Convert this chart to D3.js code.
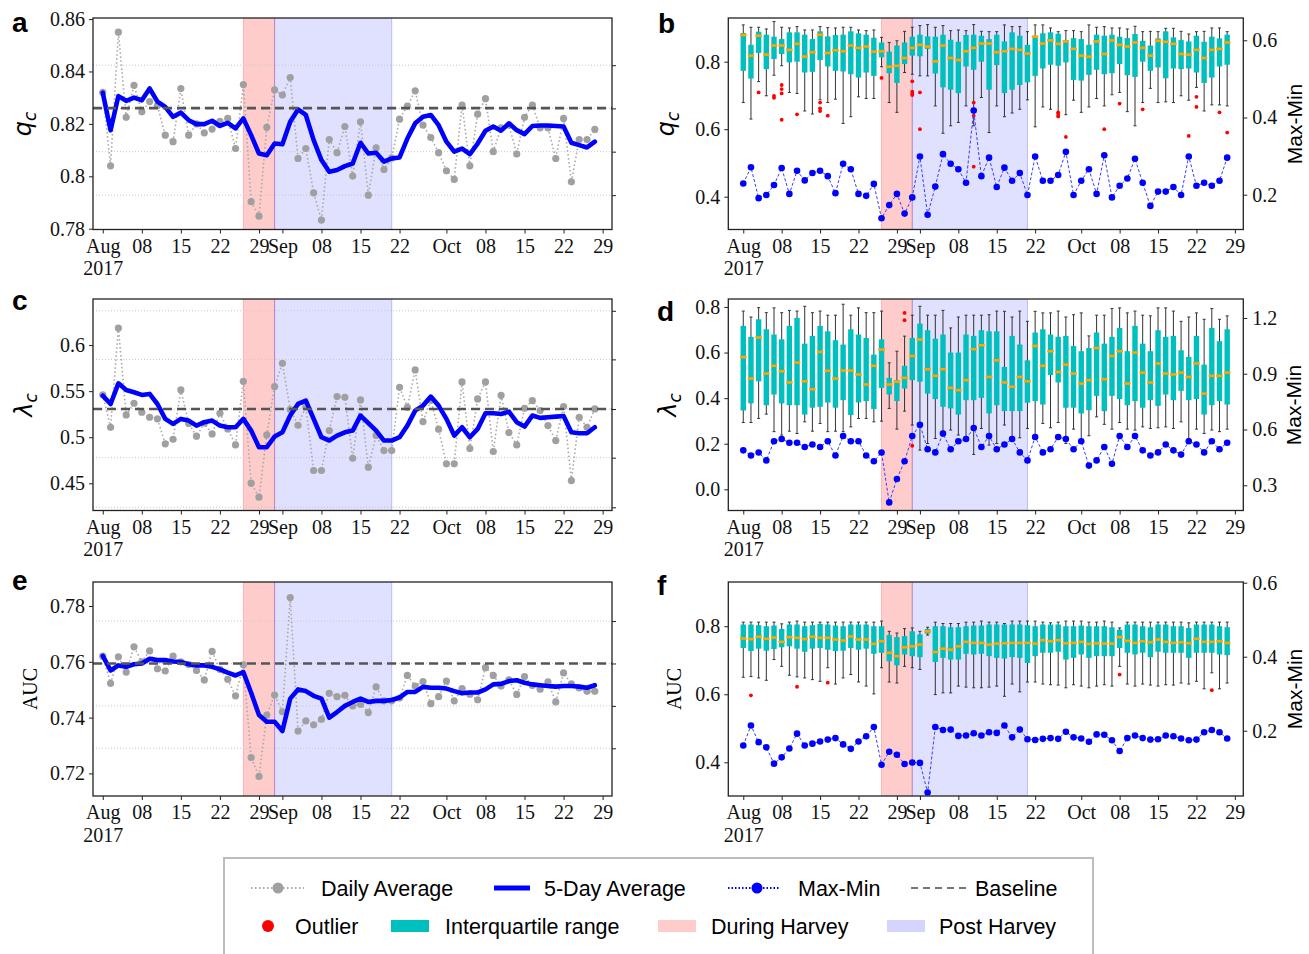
<!DOCTYPE html>
<html>
<head>
<meta charset="utf-8">
<script src="https://cdn.jsdelivr.net/npm/d3@7"></script>
<style>
  body { margin: 0; background: #fff; }
</style>
</head>
<body>
<script>
/* x positions are business-day indices: 0 = Tue 1 Aug 2017 ... 63 = Fri 27 Oct 2017 */
var tickIdx    = [0, 5, 10, 15, 20, 23, 28, 33, 38, 44, 49, 54, 59, 64];
var tickLabels = ["Aug", "08", "15", "22", "29", "Sep", "08", "15", "22", "Oct", "08", "15", "22", "29"];
var duringHarvey = [18, 22];
var postHarvey   = [22, 37];

/* q_c : daily average, 5-day average, baseline */
var qcDaily = [0.832,0.804,0.855,0.8225,0.8347,0.8246,0.8285,0.827,0.8157,0.8132,0.8335,0.8157,0.820,0.8166,0.818,0.821,
  0.8221,0.8106,0.835,0.7903,0.7848,0.8187,0.833,0.831,0.8377,0.8068,0.8106,0.7937,0.7833,0.814,0.809,0.819,
  0.8001,0.8208,0.7928,0.8109,0.8026,0.807,0.8218,0.8268,0.8326,0.8195,0.8148,0.809,0.8021,0.7988,0.8272,0.804,
  0.8237,0.8296,0.8094,0.8185,0.8195,0.8085,0.8225,0.8272,0.8185,0.8185,0.8068,0.8221,0.7979,0.814,0.814,0.8179];
var qc5Day = [0.8319,0.8176,0.8306,0.8288,0.830,0.829,0.8335,0.8285,0.8265,0.8227,0.8243,0.8214,0.8199,0.8199,0.8212,0.8192,
  0.8204,0.8183,0.8221,0.8157,0.8087,0.808,0.8125,0.8122,0.8208,0.8255,0.8234,0.8138,0.8062,0.8017,0.8024,0.8039,
  0.8049,0.8128,0.8087,0.809,0.8056,0.8068,0.8072,0.8144,0.8202,0.8227,0.8234,0.8195,0.8132,0.8094,0.8106,0.8085,
  0.8125,0.8174,0.819,0.8174,0.8202,0.8176,0.8161,0.8192,0.8194,0.8194,0.8192,0.819,0.8128,0.8119,0.811,0.8132];
var qcBase = 0.826;
var qcGrid = [0.7928, 0.8094, 0.8259, 0.8424];

/* lambda_c */
var lamDaily = [0.546,0.5108,0.6185,0.5242,0.5369,0.5271,0.5217,0.52,0.4928,0.4978,0.5513,0.515,0.5011,0.5152,0.5036,0.526,
  0.509,0.4917,0.5607,0.4501,0.435,0.5025,0.555,0.5802,0.53,0.513,0.533,0.4639,0.4639,0.5072,0.5441,0.5434,
  0.4772,0.5405,0.4675,0.502,0.4855,0.4855,0.5542,0.5325,0.573,0.517,0.54,0.5087,0.4711,0.4711,0.56,0.4877,
  0.5416,0.56,0.4845,0.5455,0.5051,0.4917,0.5314,0.5398,0.5289,0.5126,0.4964,0.5333,0.453,0.5217,0.5108,0.5307];
var lam5Day = [0.5452,0.5361,0.5585,0.5513,0.5488,0.5459,0.547,0.5361,0.5199,0.5145,0.5199,0.5181,0.5126,0.5163,0.5181,0.5126,
  0.5108,0.5108,0.5199,0.5072,0.4892,0.4892,0.5007,0.5054,0.5235,0.5361,0.5398,0.5199,0.50,0.4964,0.5018,0.5054,
  0.5072,0.5235,0.5152,0.5072,0.4964,0.4964,0.50,0.5126,0.5289,0.5343,0.5441,0.5343,0.5199,0.5018,0.5108,0.50,
  0.509,0.526,0.526,0.5253,0.5278,0.5163,0.5116,0.5235,0.521,0.5217,0.5224,0.5231,0.5054,0.5043,0.5043,0.5108];
var lamBase = 0.5306;
var lamGrid = [0.424, 0.4778, 0.5306, 0.5845, 0.6372];

/* AUC */
var aucDaily = [0.762,0.7523,0.7618,0.7563,0.7654,0.760,0.7639,0.7575,0.7567,0.762,0.760,0.759,0.7569,0.7535,0.7637,0.7573,
  0.7537,0.7478,0.7589,0.7257,0.7189,0.7409,0.7481,0.7421,0.783,0.7352,0.7388,0.7374,0.7394,0.7487,0.7475,0.748,
  0.7442,0.7448,0.7418,0.751,0.746,0.746,0.747,0.7551,0.7513,0.7529,0.745,0.7475,0.7531,0.746,0.7504,0.7484,
  0.7464,0.7579,0.7551,0.7513,0.7535,0.7483,0.7547,0.7515,0.7502,0.7528,0.7456,0.756,0.7521,0.7506,0.7494,0.7494];
var auc5Day = [0.7621,0.7569,0.7587,0.7582,0.7591,0.7594,0.7611,0.7606,0.7606,0.7601,0.7599,0.7591,0.7587,0.7587,0.7582,0.7573,
  0.7561,0.7551,0.7563,0.7489,0.7409,0.7385,0.7385,0.7352,0.7468,0.7501,0.7495,0.7478,0.7468,0.74,0.742,0.7442,
  0.7456,0.7468,0.7456,0.746,0.746,0.7463,0.7472,0.7492,0.7492,0.751,0.7507,0.7507,0.7504,0.7495,0.7487,0.749,
  0.749,0.7501,0.7519,0.7521,0.7531,0.7534,0.7525,0.7519,0.7516,0.7513,0.7511,0.7513,0.7513,0.7511,0.7507,0.7516];
var aucBase = 0.7594;
var aucGrid = [0.729, 0.7442, 0.7594, 0.7746];

/* q_c boxplots per day (whisker low, Q1, median, Q3, whisker high), outliers [day, value], Max-Min */
var qcLo = [0.679,0.63,0.741,0.699,0.76,0.788,0.709,0.706,0.654,0.645,0.687,0.679,0.689,0.617,0.637,0.696,
  0.691,0.691,0.785,0.679,0.65,0.768,0.763,0.758,0.758,0.669,0.588,0.61,0.62,0.669,0.61,0.694,
  0.59,0.669,0.637,0.648,0.659,0.687,0.607,0.666,0.659,0.64,0.643,0.686,0.65,0.666,0.691,0.669,
  0.702,0.709,0.652,0.61,0.679,0.721,0.679,0.681,0.679,0.699,0.686,0.724,0.654,0.672,0.672,0.669];
var qcQ1 = [0.773,0.75,0.826,0.778,0.808,0.823,0.798,0.8,0.768,0.77,0.805,0.786,0.773,0.771,0.763,0.753,
  0.768,0.758,0.813,0.766,0.737,0.793,0.818,0.816,0.838,0.765,0.724,0.717,0.707,0.786,0.776,0.8,
  0.717,0.79,0.707,0.717,0.731,0.739,0.758,0.78,0.791,0.788,0.798,0.746,0.744,0.761,0.776,0.763,
  0.766,0.793,0.76,0.755,0.8,0.773,0.783,0.751,0.78,0.778,0.78,0.768,0.737,0.753,0.786,0.791];
var qcMed = [0.879,0.818,0.877,0.821,0.848,0.848,0.835,0.853,0.815,0.828,0.88,0.826,0.834,0.831,0.848,0.841,
  0.845,0.83,0.831,0.785,0.788,0.811,0.841,0.85,0.845,0.801,0.848,0.811,0.805,0.831,0.841,0.854,
  0.854,0.828,0.831,0.838,0.835,0.824,0.874,0.854,0.863,0.853,0.86,0.838,0.818,0.815,0.86,0.823,
  0.863,0.85,0.845,0.857,0.841,0.818,0.862,0.859,0.853,0.823,0.821,0.835,0.811,0.835,0.838,0.857];
var qcQ3 = [0.885,0.85,0.889,0.88,0.874,0.867,0.887,0.887,0.88,0.867,0.89,0.875,0.879,0.88,0.89,0.884,
  0.88,0.871,0.857,0.83,0.848,0.857,0.874,0.88,0.875,0.874,0.88,0.865,0.859,0.879,0.88,0.877,
  0.867,0.88,0.86,0.887,0.877,0.85,0.877,0.884,0.887,0.883,0.864,0.87,0.867,0.85,0.88,0.877,
  0.88,0.874,0.87,0.882,0.862,0.848,0.869,0.89,0.872,0.864,0.86,0.877,0.859,0.874,0.869,0.88];
var qcHi = [0.909,0.902,0.902,0.897,0.919,0.902,0.9,0.904,0.894,0.894,0.904,0.901,0.9,0.902,0.902,0.894,
  0.892,0.894,0.872,0.857,0.862,0.89,0.902,0.907,0.91,0.902,0.907,0.892,0.894,0.892,0.91,0.89,
  0.889,0.889,0.909,0.904,0.904,0.889,0.909,0.909,0.9,0.889,0.892,0.892,0.889,0.909,0.902,0.904,
  0.9,0.9,0.897,0.905,0.889,0.89,0.889,0.899,0.899,0.89,0.882,0.889,0.89,0.9,0.9,0.889];
var qcOut = [[2,0.709],[4,0.699],[4,0.693],[5,0.731],[5,0.719],[5,0.706],[5,0.628],[7,0.644],[10,0.679],[10,0.662],
  [10,0.654],[11,0.64],[18,0.752],[22,0.742],[22,0.711],[22,0.705],[22,0.701],[23,0.709],[23,0.6],[30,0.679],
  [30,0.64],[30,0.489],[41,0.65],[41,0.645],[41,0.638],[42,0.577],[47,0.6],[49,0.676],[52,0.659],[58,0.58],
  [59,0.696],[59,0.666],[62,0.65],[63,0.59]];
var qcMaxMin = [0.229,0.271,0.191,0.199,0.225,0.269,0.202,0.262,0.237,0.256,0.262,0.248,0.204,0.28,0.266,0.202,
  0.197,0.228,0.139,0.173,0.202,0.151,0.193,0.299,0.148,0.221,0.305,0.28,0.266,0.231,0.418,0.248,
  0.296,0.22,0.27,0.236,0.256,0.199,0.299,0.236,0.236,0.251,0.311,0.199,0.236,0.266,0.202,0.302,
  0.193,0.223,0.242,0.293,0.231,0.171,0.208,0.208,0.22,0.199,0.299,0.223,0.231,0.223,0.236,0.296];

/* lambda_c boxplots */
var lamLo = [0.293,0.293,0.311,0.33,0.253,0.238,0.255,0.245,0.296,0.255,0.289,0.253,0.255,0.253,0.274,0.311,
  0.311,0.296,0.299,0.355,0.264,0.343,0.282,0.172,0.201,0.223,0.255,0.26,0.238,0.223,0.153,0.267,
  0.194,0.201,0.282,0.226,0.226,0.267,0.226,0.289,0.27,0.293,0.201,0.264,0.216,0.235,0.318,0.285,
  0.264,0.293,0.264,0.26,0.274,0.267,0.27,0.274,0.267,0.296,0.223,0.264,0.245,0.26,0.253,0.264];
var lamQ1 = [0.346,0.377,0.474,0.369,0.416,0.377,0.369,0.369,0.328,0.358,0.362,0.381,0.358,0.391,0.326,0.381,
  0.387,0.352,0.445,0.416,0.387,0.442,0.479,0.472,0.42,0.396,0.362,0.355,0.328,0.391,0.391,0.401,
  0.333,0.369,0.343,0.343,0.343,0.38,0.387,0.372,0.501,0.469,0.358,0.358,0.333,0.347,0.41,0.343,
  0.41,0.396,0.369,0.387,0.358,0.391,0.366,0.416,0.391,0.432,0.391,0.396,0.328,0.369,0.387,0.372];
var lamMed = [0.58,0.486,0.666,0.508,0.542,0.518,0.469,0.556,0.474,0.439,0.603,0.52,0.486,0.521,0.521,0.504,
  0.46,0.542,0.613,0.46,0.472,0.489,0.585,0.657,0.527,0.498,0.527,0.445,0.435,0.479,0.615,0.632,
  0.493,0.566,0.469,0.45,0.493,0.474,0.629,0.542,0.606,0.515,0.547,0.508,0.464,0.479,0.62,0.483,
  0.585,0.606,0.464,0.6,0.512,0.469,0.552,0.508,0.504,0.512,0.493,0.552,0.42,0.498,0.498,0.512];
var lamQ3 = [0.717,0.669,0.746,0.702,0.679,0.658,0.717,0.752,0.639,0.673,0.717,0.693,0.654,0.635,0.702,0.679,
  0.664,0.591,0.658,0.489,0.479,0.542,0.664,0.727,0.698,0.661,0.679,0.6,0.6,0.679,0.673,0.698,
  0.693,0.693,0.537,0.673,0.635,0.566,0.688,0.702,0.679,0.669,0.673,0.629,0.606,0.62,0.688,0.639,
  0.669,0.708,0.606,0.717,0.639,0.606,0.698,0.669,0.673,0.61,0.581,0.673,0.547,0.708,0.65,0.702];
var lamHi = [0.782,0.756,0.797,0.775,0.796,0.775,0.785,0.782,0.803,0.775,0.782,0.764,0.764,0.812,0.764,0.796,
  0.775,0.775,0.782,0.555,0.606,0.672,0.764,0.803,0.764,0.764,0.785,0.708,0.756,0.764,0.764,0.764,
  0.766,0.782,0.781,0.756,0.782,0.737,0.781,0.774,0.774,0.782,0.756,0.766,0.774,0.673,0.764,0.764,
  0.793,0.796,0.774,0.782,0.764,0.761,0.796,0.796,0.782,0.737,0.756,0.774,0.746,0.793,0.746,0.761];
var lamOut = [[21,0.774],[21,0.742],[22,0.191]];
var lamMaxMin = [0.488,0.46,0.476,0.434,0.537,0.549,0.529,0.529,0.506,0.519,0.506,0.537,0.46,0.565,0.537,0.537,
  0.46,0.429,0.476,0.208,0.334,0.429,0.565,0.626,0.494,0.477,0.578,0.494,0.537,0.549,0.608,0.506,
  0.565,0.494,0.519,0.549,0.477,0.434,0.56,0.477,0.494,0.56,0.549,0.494,0.537,0.406,0.434,0.506,
  0.416,0.565,0.506,0.565,0.488,0.46,0.477,0.519,0.488,0.465,0.537,0.519,0.477,0.537,0.494,0.529];

/* AUC boxplots */
var aucLo = [0.65,0.652,0.648,0.641,0.702,0.682,0.656,0.651,0.648,0.643,0.638,0.678,0.63,0.648,0.658,0.636,
  0.624,0.601,0.678,0.636,0.633,0.682,0.678,0.673,0.774,0.599,0.604,0.604,0.624,0.621,0.619,0.619,
  0.621,0.624,0.594,0.63,0.607,0.636,0.636,0.63,0.628,0.627,0.619,0.628,0.624,0.619,0.624,0.628,
  0.624,0.682,0.63,0.624,0.63,0.627,0.624,0.628,0.627,0.633,0.63,0.638,0.616,0.663,0.616,0.633];
var aucQ1 = [0.736,0.727,0.734,0.728,0.733,0.738,0.741,0.734,0.725,0.734,0.736,0.731,0.727,0.728,0.736,0.731,
  0.734,0.719,0.722,0.697,0.685,0.717,0.712,0.709,0.778,0.695,0.707,0.702,0.702,0.719,0.717,0.719,
  0.712,0.707,0.705,0.709,0.707,0.692,0.712,0.722,0.722,0.725,0.702,0.707,0.717,0.707,0.712,0.712,
  0.712,0.736,0.722,0.717,0.722,0.709,0.725,0.722,0.722,0.722,0.707,0.722,0.722,0.722,0.717,0.715];
var aucMed = [0.764,0.762,0.769,0.763,0.767,0.754,0.768,0.766,0.762,0.769,0.766,0.766,0.761,0.758,0.77,0.761,
  0.761,0.748,0.756,0.722,0.712,0.738,0.741,0.746,0.785,0.724,0.734,0.731,0.741,0.754,0.751,0.751,
  0.746,0.749,0.75,0.751,0.751,0.751,0.749,0.759,0.756,0.759,0.75,0.751,0.754,0.748,0.75,0.749,
  0.749,0.768,0.757,0.751,0.756,0.753,0.761,0.754,0.751,0.753,0.75,0.763,0.754,0.754,0.756,0.751];
var aucQ3 = [0.805,0.805,0.803,0.8,0.802,0.792,0.805,0.805,0.8,0.803,0.807,0.805,0.802,0.8,0.805,0.805,
  0.805,0.8,0.8,0.774,0.768,0.771,0.785,0.776,0.792,0.8,0.8,0.797,0.797,0.8,0.802,0.802,
  0.805,0.805,0.805,0.805,0.805,0.803,0.8,0.805,0.805,0.805,0.8,0.8,0.802,0.8,0.8,0.8,
  0.797,0.79,0.805,0.805,0.8,0.797,0.805,0.805,0.8,0.8,0.795,0.805,0.805,0.805,0.8,0.797];
var aucHi = [0.812,0.812,0.812,0.812,0.812,0.807,0.812,0.815,0.812,0.812,0.812,0.812,0.812,0.812,0.812,0.812,
  0.812,0.812,0.815,0.785,0.78,0.793,0.795,0.785,0.797,0.812,0.808,0.808,0.808,0.812,0.812,0.815,
  0.812,0.812,0.808,0.815,0.815,0.815,0.815,0.812,0.81,0.812,0.815,0.815,0.815,0.812,0.812,0.815,
  0.812,0.795,0.812,0.812,0.812,0.812,0.812,0.812,0.812,0.812,0.81,0.812,0.812,0.812,0.812,0.812];
var aucOut = [[1,0.597],[7,0.622],[11,0.634],[49,0.658],[61,0.612]];
var aucMaxMin = [0.160,0.214,0.169,0.155,0.111,0.128,0.152,0.192,0.160,0.165,0.171,0.176,0.180,0.163,0.151,0.171,
  0.185,0.210,0.108,0.143,0.135,0.110,0.114,0.113,0.033,0.210,0.202,0.203,0.186,0.187,0.193,0.187,
  0.196,0.194,0.214,0.182,0.203,0.177,0.175,0.178,0.180,0.178,0.197,0.182,0.179,0.170,0.190,0.189,
  0.174,0.145,0.180,0.187,0.180,0.176,0.177,0.187,0.185,0.179,0.174,0.176,0.196,0.202,0.196,0.179];

/* Layout */
var width = 1309, height = 954;
var serif = "'Liberation Serif', 'Times New Roman', serif";
var sans = "'Liberation Sans', Arial, sans-serif";
var teal = "#00bfbf", orange = "#ffa500", blue = "#0000ff";

var leftCol  = {x0: 93,    x1: 612,    dom: [-1.25, 65.2]};
var rightCol = {x0: 728.3, x1: 1243.3, dom: [-1.95, 65.1]};
var rowsY = [[18, 229.5], [299, 510.5], [582, 796]];

var svg = d3.select("body").append("svg")
    .attr("width", width)
    .attr("height", height);

function styleAxis(ax) {
  ax.select(".domain").remove();
  ax.selectAll("line").attr("stroke", "#222").attr("stroke-width", 1);
  ax.selectAll("text").attr("font-size", 20).attr("font-family", serif).attr("fill", "#111");
  return ax;
}

function drawSpans(g, x, y0, y1) {
  [[duringHarvey, "#ff0000", 0.2], [postHarvey, "#0000ff", 0.12]].forEach(function(s) {
    g.append("rect")
      .attr("x", x(s[0][0])).attr("y", y0)
      .attr("width", x(s[0][1]) - x(s[0][0])).attr("height", y1 - y0)
      .attr("fill", s[1]).attr("fill-opacity", s[2]);
    s[0].forEach(function(v) {
      g.append("line").attr("x1", x(v)).attr("x2", x(v)).attr("y1", y0).attr("y2", y1)
        .attr("stroke", s[1]).attr("stroke-opacity", 0.22).attr("stroke-width", 1);
    });
  });
}

function drawXAxis(g, x, y1) {
  var ax = g.append("g").attr("transform", "translate(0," + y1 + ")")
    .call(d3.axisBottom(x).tickValues(tickIdx)
      .tickFormat(function(d, i) { return tickLabels[i]; })
      .tickSize(4).tickPadding(5));
  styleAxis(ax);
  ax.select(".tick text").append("tspan").attr("x", 0).attr("dy", "1.12em").text("2017");
}

function panelLetter(x, y, s) {
  svg.append("text").attr("x", x).attr("y", y).text(s)
    .attr("font-family", sans).attr("font-weight", "bold").attr("font-size", 28).attr("fill", "#000");
}

function mathLabel(x, y, sym) {
  var t = svg.append("text")
    .attr("transform", "translate(" + x + "," + y + ") rotate(-90)")
    .attr("text-anchor", "middle").attr("font-family", "'DejaVu Sans', sans-serif").attr("font-size", 24);
  t.append("tspan").attr("font-style", "italic").text(sym);
  t.append("tspan").attr("font-style", "italic").attr("font-size", 17).attr("dy", 5).text("c");
}

function plainLabel(x, y, s, font, size) {
  svg.append("text")
    .attr("transform", "translate(" + x + "," + y + ") rotate(-90)")
    .attr("text-anchor", "middle").attr("font-family", font).attr("font-size", size).text(s);
}

function trimFormat(d) { return String(+d.toFixed(2)); }

/* panels a, c, e: daily average and 5-day average */
function linePanel(row, daily, avg, base, grid, yDom, yTicks) {
  var col = leftCol;
  var y0 = rowsY[row][0], y1 = rowsY[row][1];
  var x = d3.scaleLinear().domain(col.dom).range([col.x0, col.x1]);
  var y = d3.scaleLinear().domain(yDom).range([y1, y0]);
  var g = svg.append("g");

  drawSpans(g, x, y0, y1);

  g.selectAll("line.grid").data(grid).join("line").attr("class", "grid")
    .attr("x1", col.x0).attr("x2", col.x1)
    .attr("y1", function(d) { return y(d); }).attr("y2", function(d) { return y(d); })
    .attr("stroke", "#c8c8c8").attr("stroke-width", 1).attr("stroke-dasharray", "1,2");

  var line = d3.line().x(function(d, i) { return x(i); }).y(function(d) { return y(d); });

  g.append("path").attr("d", line(daily)).attr("fill", "none")
    .attr("stroke", "#a8a8a8").attr("stroke-width", 1.6).attr("stroke-dasharray", "1.5,2.5");
  g.selectAll("circle.daily").data(daily).join("circle").attr("class", "daily")
    .attr("cx", function(d, i) { return x(i); }).attr("cy", function(d) { return y(d); })
    .attr("r", 3.6).attr("fill", "#a0a0a0");

  g.append("path").attr("d", line(avg)).attr("fill", "none")
    .attr("stroke", blue).attr("stroke-width", 4.6).attr("stroke-linejoin", "round").attr("stroke-linecap", "round");

  g.append("line").attr("x1", col.x0).attr("x2", col.x1).attr("y1", y(base)).attr("y2", y(base))
    .attr("stroke", "#555").attr("stroke-width", 2.6).attr("stroke-dasharray", "9,5");

  g.append("rect").attr("x", col.x0).attr("y", y0).attr("width", col.x1 - col.x0).attr("height", y1 - y0)
    .attr("fill", "none").attr("stroke", "#222").attr("stroke-width", 1.3);

  styleAxis(g.append("g").attr("transform", "translate(" + col.x0 + ",0)")
    .call(d3.axisLeft(y).tickValues(yTicks).tickFormat(trimFormat).tickSize(4).tickPadding(4)));
  styleAxis(g.append("g").attr("transform", "translate(" + col.x1 + ",0)")
    .call(d3.axisRight(y).tickValues(grid).tickFormat("").tickSize(4)));
  drawXAxis(g, x, y1);
}

/* panels b, d, f: daily boxplots with Max-Min on a twin axis */
function boxPanel(row, lo, q1, med, q3, hi, out, maxMin, yDom, yTicks, rDom, rTicks) {
  var col = rightCol;
  var y0 = rowsY[row][0], y1 = rowsY[row][1];
  var x = d3.scaleLinear().domain(col.dom).range([col.x0, col.x1]);
  var y = d3.scaleLinear().domain(yDom).range([y1, y0]);
  var yR = d3.scaleLinear().domain(rDom).range([y1, y0]);
  var g = svg.append("g");
  var bw = 5.4, cw = 3;

  drawSpans(g, x, y0, y1);

  var boxes = g.selectAll("g.box").data(d3.range(med.length)).join("g").attr("class", "box");
  boxes.append("line")
    .attr("x1", function(i) { return x(i); }).attr("x2", function(i) { return x(i); })
    .attr("y1", function(i) { return y(hi[i]); }).attr("y2", function(i) { return y(lo[i]); })
    .attr("stroke", "#333").attr("stroke-width", 1);
  [hi, lo].forEach(function(arr) {
    boxes.append("line")
      .attr("x1", function(i) { return x(i) - cw / 2; }).attr("x2", function(i) { return x(i) + cw / 2; })
      .attr("y1", function(i) { return y(arr[i]); }).attr("y2", function(i) { return y(arr[i]); })
      .attr("stroke", "#333").attr("stroke-width", 1);
  });
  boxes.append("rect")
    .attr("x", function(i) { return x(i) - bw / 2; }).attr("width", bw)
    .attr("y", function(i) { return y(q3[i]); })
    .attr("height", function(i) { return Math.max(1, y(q1[i]) - y(q3[i])); })
    .attr("fill", teal);
  boxes.append("line")
    .attr("x1", function(i) { return x(i) - bw / 2 - 0.6; }).attr("x2", function(i) { return x(i) + bw / 2 + 0.6; })
    .attr("y1", function(i) { return y(med[i]); }).attr("y2", function(i) { return y(med[i]); })
    .attr("stroke", orange).attr("stroke-width", 2.6);

  g.selectAll("circle.out").data(out).join("circle").attr("class", "out")
    .attr("cx", function(d) { return x(d[0]); }).attr("cy", function(d) { return y(d[1]); })
    .attr("r", 1.9).attr("fill", "#ff0000");

  var mmLine = d3.line().x(function(d, i) { return x(i); }).y(function(d) { return yR(d); });
  g.append("path").attr("d", mmLine(maxMin)).attr("fill", "none")
    .attr("stroke", "#3a3aff").attr("stroke-width", 1).attr("stroke-dasharray", "3,2");
  g.selectAll("circle.mm").data(maxMin).join("circle").attr("class", "mm")
    .attr("cx", function(d, i) { return x(i); }).attr("cy", function(d) { return yR(d); })
    .attr("r", 3.3).attr("fill", blue);

  g.append("rect").attr("x", col.x0).attr("y", y0).attr("width", col.x1 - col.x0).attr("height", y1 - y0)
    .attr("fill", "none").attr("stroke", "#222").attr("stroke-width", 1.3);

  styleAxis(g.append("g").attr("transform", "translate(" + col.x0 + ",0)")
    .call(d3.axisLeft(y).tickValues(yTicks).tickFormat(d3.format(".1f")).tickSize(4).tickPadding(4)));
  styleAxis(g.append("g").attr("transform", "translate(" + col.x1 + ",0)")
    .call(d3.axisRight(yR).tickValues(rTicks).tickFormat(d3.format(".1f")).tickSize(4).tickPadding(5)));
  drawXAxis(g, x, y1);
}

linePanel(0, qcDaily, qc5Day, qcBase, qcGrid, [0.7797, 0.8604], [0.78, 0.80, 0.82, 0.84, 0.86]);
linePanel(1, lamDaily, lam5Day, lamBase, lamGrid, [0.4205, 0.65], [0.45, 0.50, 0.55, 0.60]);
linePanel(2, aucDaily, auc5Day, aucBase, aucGrid, [0.7119, 0.7886], [0.72, 0.74, 0.76, 0.78]);

boxPanel(0, qcLo, qcQ1, qcMed, qcQ3, qcHi, qcOut, qcMaxMin, [0.3028, 0.9295], [0.4, 0.6, 0.8], [0.1098, 0.6578], [0.2, 0.4, 0.6]);
boxPanel(1, lamLo, lamQ1, lamMed, lamQ3, lamHi, lamOut, lamMaxMin, [-0.093, 0.835], [0.0, 0.2, 0.4, 0.6, 0.8], [0.1644, 1.302], [0.3, 0.6, 0.9, 1.2]);
boxPanel(2, aucLo, aucQ1, aucMed, aucQ3, aucHi, aucOut, aucMaxMin, [0.3009, 0.930], [0.4, 0.6, 0.8], [0.0235, 0.6019], [0.2, 0.4, 0.6]);

/* panel letters and axis titles */
panelLetter(12, 32, "a");
panelLetter(658, 33, "b");
panelLetter(12, 310, "c");
panelLetter(657, 321, "d");
panelLetter(12, 590, "e");
panelLetter(657, 595, "f");

mathLabel(31, 124, "q");
mathLabel(674, 124, "q");
mathLabel(32, 405, "\u03bb");
mathLabel(676, 405, "\u03bb");
plainLabel(37, 689, "AUC", serif, 20);
plainLabel(681, 689, "AUC", serif, 20);
plainLabel(1302, 124, "Max-Min", sans, 21);
plainLabel(1301, 405, "Max-Min", sans, 21);
plainLabel(1302, 689, "Max-Min", sans, 21);

/* legend */
var lg = svg.append("g").attr("font-family", sans).attr("font-size", 21.5).attr("fill", "#000");
lg.append("rect").attr("x", 224).attr("y", 858).attr("width", 869).attr("height", 110)
  .attr("fill", "#fff").attr("stroke", "#bdbdbd").attr("stroke-width", 2);

var r1 = 888, r2 = 926;
lg.append("line").attr("x1", 251).attr("x2", 304).attr("y1", r1).attr("y2", r1)
  .attr("stroke", "#a8a8a8").attr("stroke-width", 1.8).attr("stroke-dasharray", "1.5,2.5");
lg.append("circle").attr("cx", 278).attr("cy", r1).attr("r", 5.5).attr("fill", "#a0a0a0");
lg.append("text").attr("x", 321).attr("y", r1 + 7.5).text("Daily Average");

lg.append("line").attr("x1", 494).attr("x2", 530).attr("y1", r1).attr("y2", r1)
  .attr("stroke", blue).attr("stroke-width", 5);
lg.append("text").attr("x", 544).attr("y", r1 + 7.5).text("5-Day Average");

lg.append("line").attr("x1", 728).attr("x2", 780).attr("y1", r1).attr("y2", r1)
  .attr("stroke", blue).attr("stroke-width", 1.8).attr("stroke-dasharray", "1.5,2");
lg.append("circle").attr("cx", 757).attr("cy", r1).attr("r", 5.5).attr("fill", blue);
lg.append("text").attr("x", 798).attr("y", r1 + 7.5).text("Max-Min");

lg.append("line").attr("x1", 911).attr("x2", 966).attr("y1", r1).attr("y2", r1)
  .attr("stroke", "#777").attr("stroke-width", 2).attr("stroke-dasharray", "7,5");
lg.append("text").attr("x", 975).attr("y", r1 + 7.5).text("Baseline");

lg.append("circle").attr("cx", 268).attr("cy", r2).attr("r", 6).attr("fill", "#ff0000");
lg.append("text").attr("x", 295).attr("y", r2 + 7.5).text("Outlier");

lg.append("rect").attr("x", 391).attr("y", r2 - 6).attr("width", 38).attr("height", 12).attr("fill", teal);
lg.append("text").attr("x", 445).attr("y", r2 + 7.5).text("Interquartile range");

lg.append("rect").attr("x", 658).attr("y", r2 - 6).attr("width", 38).attr("height", 12)
  .attr("fill", "#ff0000").attr("fill-opacity", 0.2);
lg.append("text").attr("x", 711).attr("y", r2 + 7.5).text("During Harvey");

lg.append("rect").attr("x", 887).attr("y", r2 - 6).attr("width", 38).attr("height", 12)
  .attr("fill", "#0000ff").attr("fill-opacity", 0.17);
lg.append("text").attr("x", 939).attr("y", r2 + 7.5).text("Post Harvey");
</script>
</body>
</html>
